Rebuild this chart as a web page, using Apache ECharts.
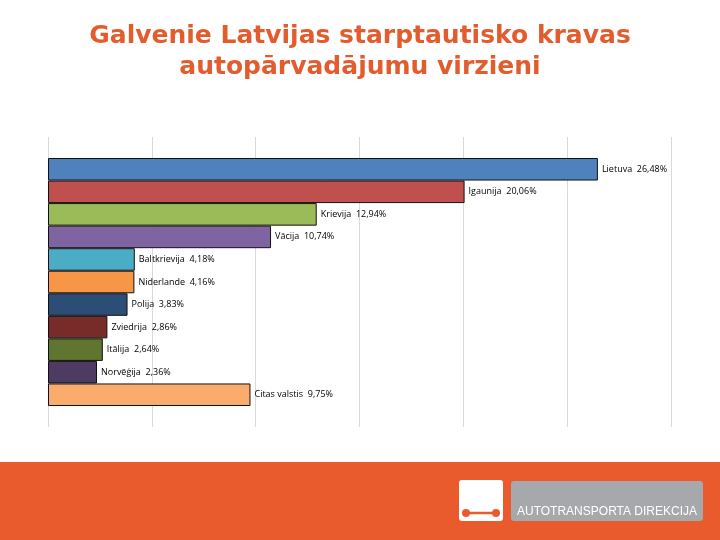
<!DOCTYPE html>
<html>
<head>
<meta charset="utf-8">
<script src="https://cdn.jsdelivr.net/npm/echarts@6/dist/echarts.min.js"></script>
<style>html,body{margin:0;padding:0;background:#fff}#c{width:720px;height:540px}</style>
</head>
<body>
<div id="c"></div>
<script>
const categories = ['Lietuva','Igaunija','Krievija','Vācija','Baltkrievija','Niderlande','Polija','Zviedrija','Itālija','Norvēģija','Citas valstis'];
const values = [26.48, 20.06, 12.94, 10.74, 4.18, 4.16, 3.83, 2.86, 2.64, 2.36, 9.75];
const barColors = ['#4F81BD','#C0504D','#9BBB59','#8064A2','#4BACC6','#F79646','#2C4D75','#772C2A','#5F7530','#4D3B62','#F9AC6C'];
const axisMin = 0, axisMax = 30, axisStep = 5;

const chart = echarts.init(document.getElementById('c'), null, {renderer:'canvas'});
const fmt = v => v.toFixed(2).replace('.', ',') + '%';
chart.setOption({
  backgroundColor: '#ffffff',
  animation: false,
  title: {
    text: 'Galvenie Latvijas starptautisko kravas\nautopārvadājumu virzieni',
    left: 'center', top: 16,
    textStyle: {color:'#E35C2E', fontFamily:'DejaVu Sans, sans-serif', fontWeight:'bold', fontSize:25, lineHeight:31}
  },
  grid: [
    {left:48, width:623, top:137, height:290},
    {left:48, width:623, top:158, height:248}
  ],
  xAxis: [
    {gridIndex:0, type:'value', min:axisMin, max:axisMax, interval:axisStep,
     axisLabel:{show:false}, axisLine:{show:false}, axisTick:{show:false},
     splitLine:{show:true, lineStyle:{color:'#D9D9D9', width:1}}},
    {gridIndex:1, type:'value', min:axisMin, max:axisMax, show:false}
  ],
  yAxis: [
    {gridIndex:0, type:'category', data:categories, show:false},
    {gridIndex:1, type:'category', data:categories, inverse:true, show:false}
  ],
  series: [{
    type:'bar', xAxisIndex:1, yAxisIndex:1,
    barCategoryGap:'0%',
    data: values.map((v,i)=>({value:v, itemStyle:{color:barColors[i]}})),
    itemStyle:{borderColor:'#111', borderWidth:1},
    label:{show:true, position:'right', distance:4, color:'#000',
      fontFamily:'Open Sans, sans-serif', fontSize:9,
      formatter: p => p.name + '  ' + fmt(p.value)}
  }],
  graphic: [
    {type:'rect', shape:{x:0, y:462, width:720, height:78}, style:{fill:'#E95A2C'}},
    {type:'rect', shape:{x:459, y:480, width:44, height:41, r:3}, style:{fill:'#ffffff'}},
    {type:'line', shape:{x1:465, y1:513, x2:497, y2:513}, style:{stroke:'#E95A2C', lineWidth:2.5}},
    {type:'circle', shape:{cx:466, cy:513, r:4}, style:{fill:'#E95A2C'}},
    {type:'circle', shape:{cx:496, cy:513, r:4}, style:{fill:'#E95A2C'}},
    {type:'rect', shape:{x:511, y:481, width:192, height:40, r:3}, style:{fill:'#A6A8AB'}},
    {type:'text', x:517, y:512, style:{text:'AUTOTRANSPORTA DIREKCIJA', fill:'#ffffff', verticalAlign:'middle', font:'12px "Liberation Sans", sans-serif'}}
  ]
});
</script>
</body>
</html>
